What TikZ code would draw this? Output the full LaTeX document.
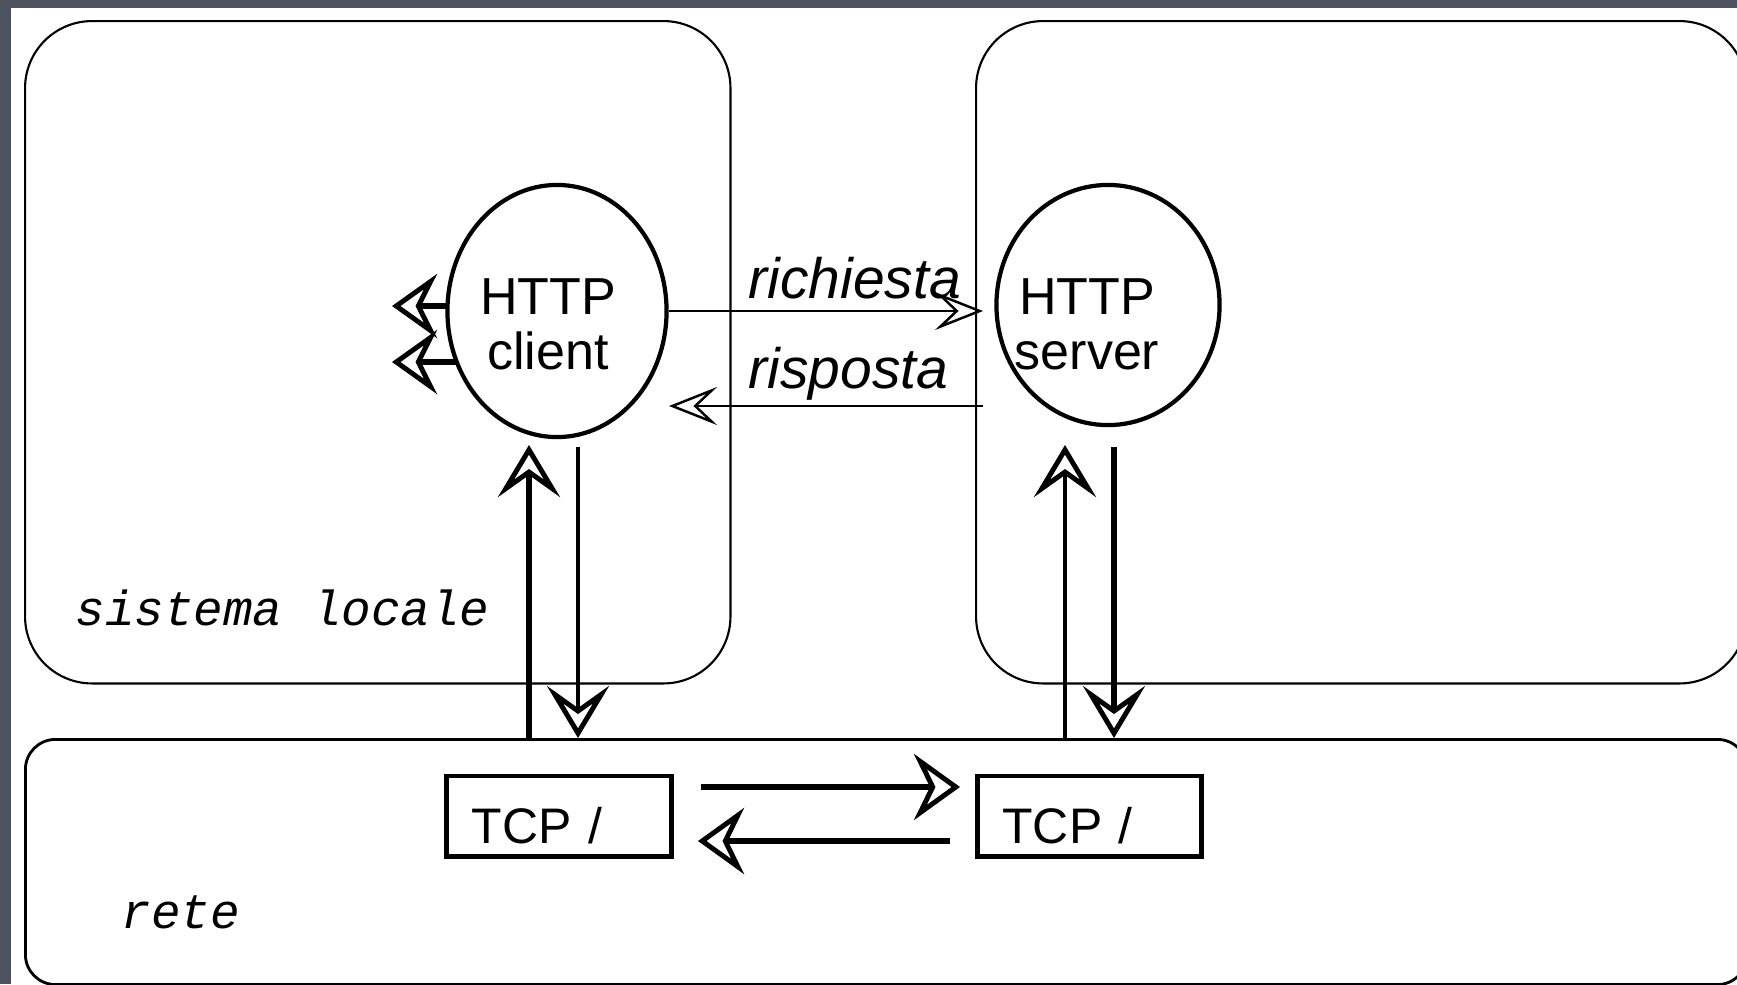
\documentclass[tikz,border=0pt]{standalone}
\usepackage{fontspec}
\setmainfont{Liberation Sans}
\setmonofont{Liberation Mono}
\usetikzlibrary{arrows.meta,shapes.geometric}
\definecolor{slate}{RGB}{78,81,94}
\tikzset{>={Stealth[open]}}
\tikzset{
  sysbox/.style={draw, rounded corners=0.67cm, line width=0.6pt, anchor=north west, inner sep=0pt},
  proc/.style={draw, ellipse, line width=1.2pt, inner sep=0pt},
  proctext/.style={align=center, inner sep=0pt, font=\fontsize{14.8}{15.6}\selectfont},
  tcpbox/.style={draw, line width=1.4pt, text width=1.74cm, inner xsep=0.25cm, inner ysep=0pt,
    minimum height=0.8cm, text height=0.54cm, text depth=0pt, align=left, font=\fontsize{14.2}{16}\selectfont},
  msg/.style={inner sep=0pt, anchor=base west, font=\fontsize{16.2}{18}\selectfont\itshape},
  zone/.style={inner sep=0pt, anchor=base west, font=\fontsize{14}{16}\selectfont\ttfamily\itshape},
  vtip/.style={-{Stealth[open, length=0.52cm, width=0.62cm, inset=0.22cm, line width=1.4pt]}},
  ttip/.style={-{Stealth[open, length=0.46cm, width=0.66cm, inset=0.16cm, line width=1.4pt]}, line width=1.6pt},
  otip/.style={-{Stealth[open, length=0.45cm, width=0.64cm, inset=0.16cm, line width=1.4pt]}, line width=1.6pt},
  mtip/.style={-{Stealth[open, length=0.48cm, width=0.38cm, inset=0.2cm, line width=0.7pt]}, line width=0.6pt}
}

\begin{document}
\begin{tikzpicture}[x=0.01cm, y=-0.01cm]
    \useasboundingbox (0,0) rectangle (1737,984);
    \clip (0,0) rectangle (1737,984);
    \fill[slate] (0,0) rectangle (1737,984);
    \fill[white] (11,8) rectangle (1737,984);

    \node (locale) at (24,20) [sysbox, minimum width=7.05cm, minimum height=6.62cm] {};
    \node (remote) at (975,20) [sysbox, minimum width=7.7cm, minimum height=6.62cm] {};
    \node (rete) at (24,738) [sysbox, rounded corners=0.3cm, line width=0.8pt, minimum width=17.21cm, minimum height=2.45cm] {};

    \node (client) at (557,311) [proc, minimum width=2.19cm, minimum height=2.52cm] {};
    \node (server) at (1108,305) [proc, minimum width=2.23cm, minimum height=2.40cm] {};
    \node (clientlbl) at (548,324) [proctext] {HTTP\\client};
    \node (serverlbl) at (1087,324) [proctext] {HTTP\\server};

    \node (tcpA) at (559,816) [tcpbox] {TCP /};
    \node (tcpB) at (1089.5,816) [tcpbox] {TCP /};

    \node (req) at (748,298) [msg] {richiesta};
    \node (resp) at (748,388) [msg] {risposta};
    \node (loclbl) at (75,625) [zone] {sistema locale};
    \node (retelbl) at (121,928) [zone] {rete};

    \coordinate (reqend) at (983,311);
    \coordinate (respa) at (983,406);
    \coordinate (respb) at (669,406);
    \draw[mtip] (client.east) -- (reqend);
    \draw[mtip] (respa) -- (respb);

    \coordinate (o1a) at (448,306);
    \coordinate (o1b) at (392,306);
    \coordinate (o2a) at (457,362);
    \coordinate (o2b) at (392,362);
    \draw[otip] (o1a) -- (o1b);
    \draw[otip] (o2a) -- (o2b);

    \coordinate (cup) at (529,445);
    \coordinate (cdn) at (578,447);
    \coordinate (sup) at (1065,445);
    \coordinate (sdn) at (1114,447);
    \draw[vtip, line width=1.85pt] (cup |- rete.north) -- (cup);
    \draw[vtip, line width=1.1pt] (cdn) -- (cdn |- rete.north);
    \draw[vtip, line width=1.1pt] (sup |- rete.north) -- (sup);
    \draw[vtip, line width=1.85pt] (sdn) -- (sdn |- rete.north);

    \coordinate (t1a) at (701,787);
    \coordinate (t1b) at (960,787);
    \coordinate (t2a) at (950,841);
    \coordinate (t2b) at (698,841);
    \draw[ttip] (t1a) -- (t1b);
    \draw[ttip] (t2a) -- (t2b);
\end{tikzpicture}
\end{document}
